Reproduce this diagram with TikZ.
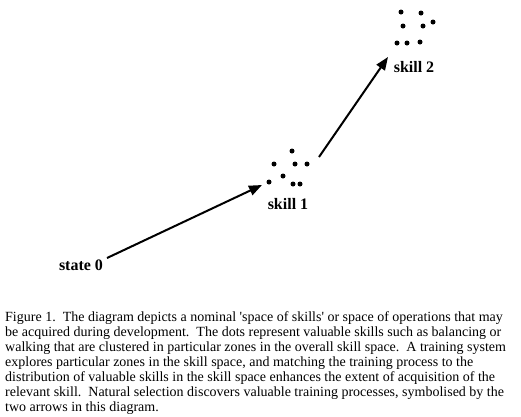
\documentclass[tikz,border=0pt]{standalone}
\usepackage{fontspec}
\setmainfont{Liberation Serif}
\usetikzlibrary{arrows.meta}

\begin{document}
\begin{tikzpicture}[x=1pt, y=-1pt,
      lbl/.style={font=\fontsize{16}{18}\selectfont\bfseries, inner sep=0pt, anchor=base},
      skilldot/.style={circle, fill=black, inner sep=0pt, minimum size=5pt},
      link/.style={-{Triangle[length=13pt,width=10pt]}, line width=2pt}]
    \useasboundingbox (0,0) rectangle (521,416);
    % labels
    \node[lbl] (st0) at (81,270) {state 0};
    \node[lbl] (sk1) at (288,209) {skill 1};
    \node[lbl] (sk2) at (414,72) {skill 2};
    % clusters of valuable skills
    \foreach \p [count=\i] in {(292,151),(274,164),(295,164),(307,164),(283,176),(269,182),(293,184),(300,184)}
      \node[skilldot] (da\i) at \p {};
    \foreach \p [count=\i] in {(401,12),(421,13),(403,26),(423,26),(433,22),(397,43),(407,43),(420,42)}
      \node[skilldot] (db\i) at \p {};
    % arrow ends
    \coordinate (a0) at (107,258);
    \coordinate (a1) at (262,185);
    \coordinate (b0) at (319,157);
    \coordinate (b1) at (388,57);
    \draw[link] (a0) -- (a1);
    \draw[link] (b0) -- (b1);
    % caption
    \node[anchor=base west, align=left, inner sep=0pt, font=\fontsize{14}{15}\selectfont] (cap) at (5,411)
      {Figure 1.\ \ The diagram depicts a nominal \textquotesingle space of skills\textquotesingle\ or space of operations that may\\
       be acquired during development.\ \ The dots represent valuable skills such as balancing or\\
       walking that are clustered in particular zones in the overall skill space.\ \ A training system\\
       explores particular zones in the skill space, and matching the training process to the\\
       distribution of valuable skills in the skill space enhances the extent of acquisition of the\\
       relevant skill.\ \ Natural selection discovers valuable training processes, symbolised by the\\
       two arrows in this diagram.};
\end{tikzpicture}
\end{document}
